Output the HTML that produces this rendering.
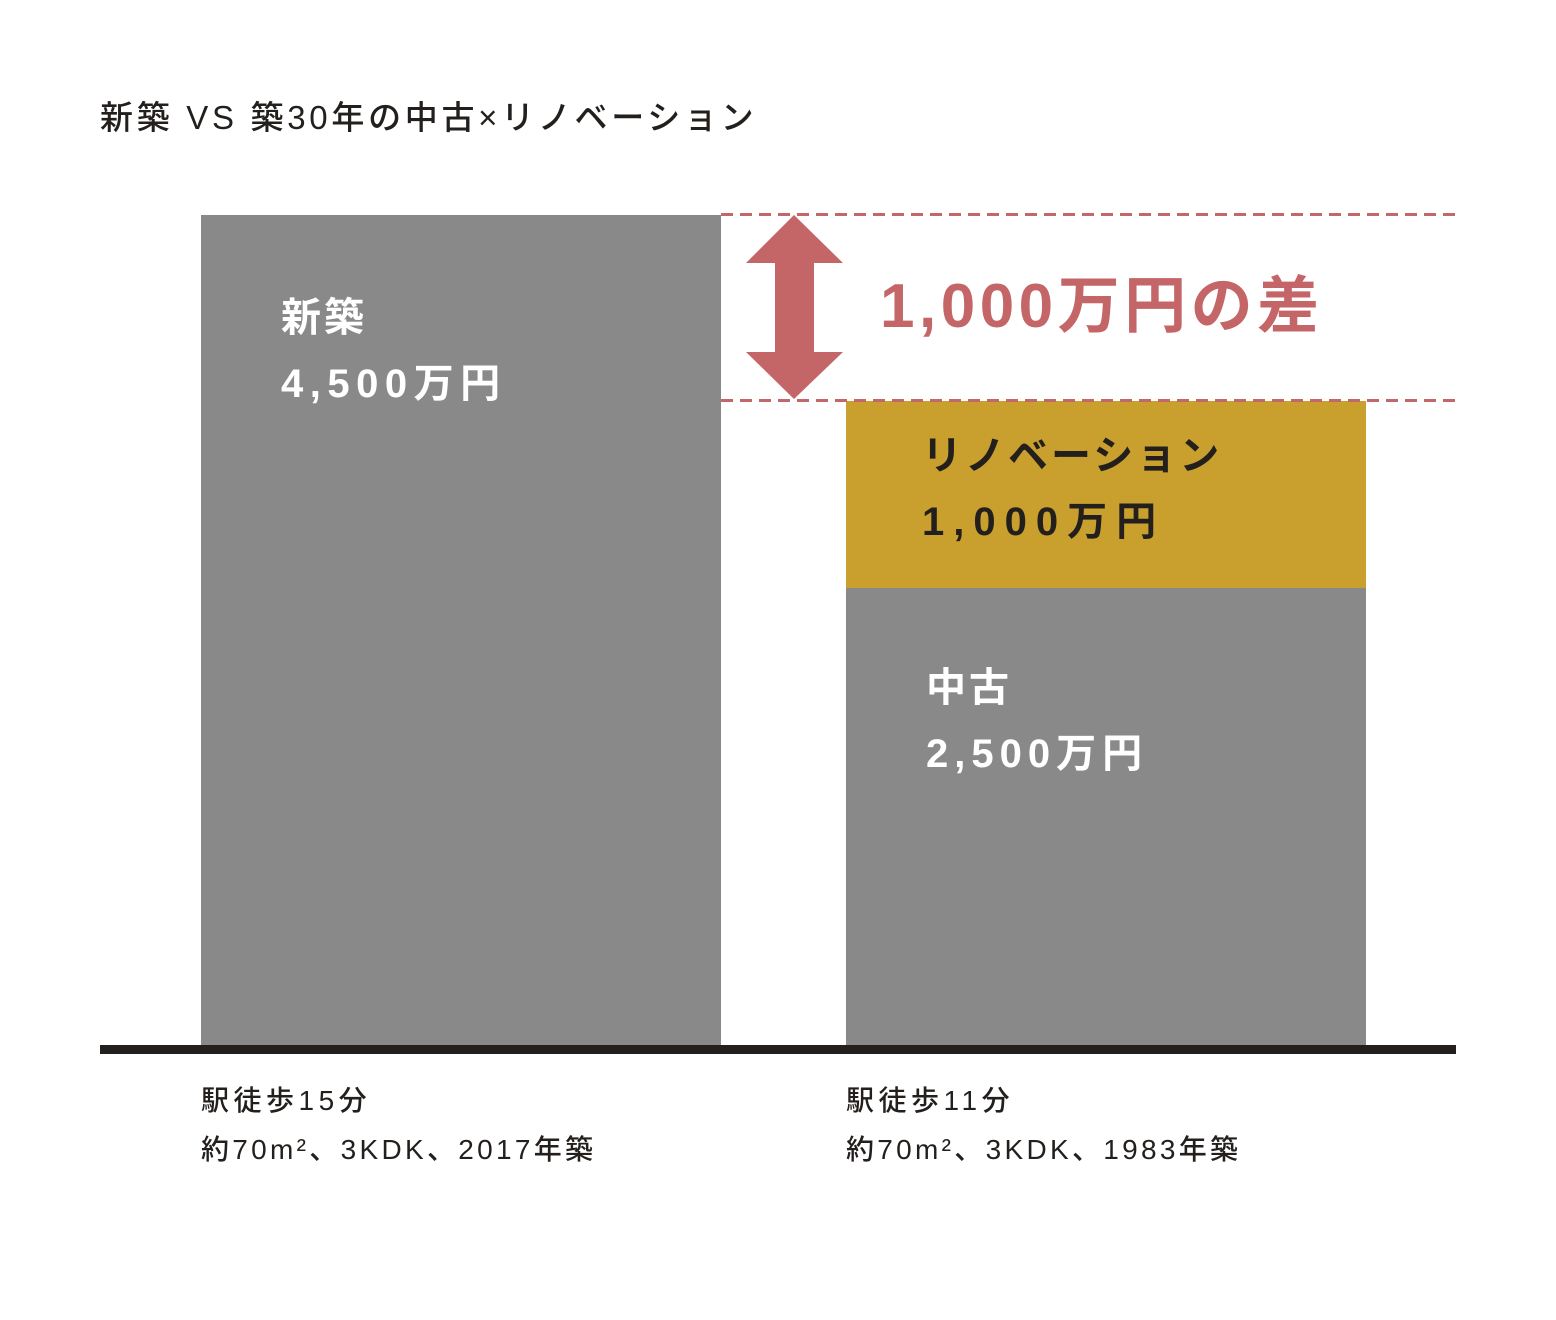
<!DOCTYPE html>
<html><head><meta charset="utf-8"><style>
body{margin:0;background:#fff;width:1556px;height:1320px;position:relative;overflow:hidden;font-family:"Liberation Sans","Noto Sans CJK JP",sans-serif}
.a{position:absolute;white-space:nowrap;line-height:1}
</style></head><body>
<div class="a" style="left:100px;top:101px;font-size:33px;color:#231f1c;font-weight:500;letter-spacing:3.7px">新築 VS 築30年の中古×リノベーション</div>
<div class="a" style="left:201px;top:215px;width:520px;height:832px;background:#898989"></div>
<div class="a" style="left:846px;top:401px;width:520px;height:187px;background:#c9a02e"></div>
<div class="a" style="left:846px;top:588px;width:520px;height:459px;background:#898989"></div>
<div class="a" style="left:100px;top:1045px;width:1356px;height:9px;background:#231f1c"></div>
<svg class="a" style="left:0;top:0" width="1556" height="1320">
<line x1="721" y1="214.5" x2="1456" y2="214.5" stroke="#c4676a" stroke-width="3" stroke-dasharray="12,7"/>
<line x1="721" y1="400.5" x2="1456" y2="400.5" stroke="#c4676a" stroke-width="3" stroke-dasharray="12,7"/>
<polygon points="794,215 843,263 814,263 814,352 843,352 794,399 746,352 775,352 775,263 746,263" fill="#c46668"/>
</svg>
<div class="a" style="left:880px;top:276px;font-size:62px;font-weight:bold;color:#c46668;letter-spacing:4.5px">1,000万円の差</div>
<div class="a" style="left:281px;top:298px;font-size:40px;font-weight:bold;color:#fff;letter-spacing:3px">新築</div>
<div class="a" style="left:281px;top:364px;font-size:40px;font-weight:bold;color:#fff;letter-spacing:6.5px">4,500万円</div>
<div class="a" style="left:922px;top:436px;font-size:40px;font-weight:bold;color:#231f1c;letter-spacing:3px">リノベーション</div>
<div class="a" style="left:922px;top:502px;font-size:40px;font-weight:bold;color:#231f1c;letter-spacing:9px">1,000万円</div>
<div class="a" style="left:926px;top:668px;font-size:40px;font-weight:bold;color:#fff;letter-spacing:3px">中古</div>
<div class="a" style="left:926px;top:734px;font-size:40px;font-weight:bold;color:#fff;letter-spacing:6px">2,500万円</div>
<div class="a" style="left:201px;top:1087px;font-size:28px;color:#231f1c;letter-spacing:4.5px;font-weight:500">駅徒歩15分</div>
<div class="a" style="left:201px;top:1136px;font-size:28px;color:#231f1c;letter-spacing:3.3px;font-weight:500">約70m²、3KDK、2017年築</div>
<div class="a" style="left:846px;top:1087px;font-size:28px;color:#231f1c;letter-spacing:4.5px;font-weight:500">駅徒歩11分</div>
<div class="a" style="left:846px;top:1136px;font-size:28px;color:#231f1c;letter-spacing:3.3px;font-weight:500">約70m²、3KDK、1983年築</div>
</body></html>
